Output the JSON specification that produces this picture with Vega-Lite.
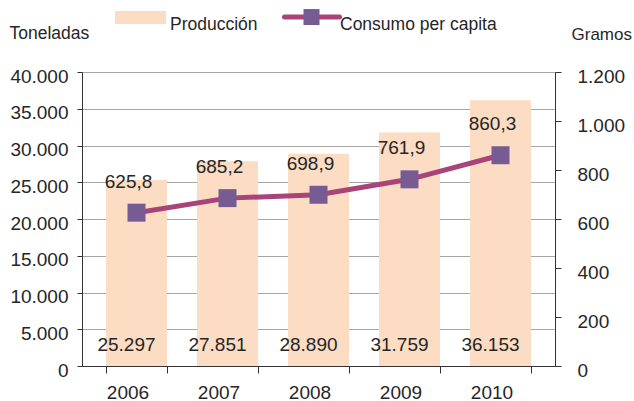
{
  "$schema": "https://vega.github.io/schema/vega-lite/v6.json",
  "width": 473,
  "height": 294,
  "autosize": "none",
  "padding": {"left": 82, "top": 72, "right": 79, "bottom": 35},
  "data": {
    "values": [
      {"anio": "2006", "prod": 25297, "cons": 625.8},
      {"anio": "2007", "prod": 27851, "cons": 685.2},
      {"anio": "2008", "prod": 28890, "cons": 698.9},
      {"anio": "2009", "prod": 31759, "cons": 761.9},
      {"anio": "2010", "prod": 36153, "cons": 860.3}
    ]
  },
  "encoding": {
    "x": {
      "field": "anio",
      "type": "nominal",
      "sort": null,
      "scale": {"paddingInner": 0.33, "paddingOuter": 0.264},
      "axis": {
        "title": null,
        "labelAngle": 0,
        "tickBand": "extent",
        "tickSize": 7,
        "labelOffset": -9,
        "labelBaseline": "alphabetic",
        "labelPadding": 25,
        "domainColor": "#333333",
        "tickColor": "#333333",
        "grid": false
      }
    }
  },
  "layer": [
    {
      "encoding": {
        "y": {
          "field": "prod",
          "type": "quantitative",
          "scale": {"domain": [0, 40000], "nice": false},
          "axis": {
            "orient": "left",
            "values": [0, 5000, 10000, 15000, 20000, 25000, 30000, 35000, 40000],
            "format": ",d",
            "grid": true,
            "gridColor": "#A6A6A6",
            "domainColor": "#333333",
            "tickColor": "#333333",
            "tickSize": 5,
            "labelPadding": 9,
            "labelBaseline": "alphabetic",
            "labelOffset": 10,
            "title": "Toneladas",
            "titleAngle": 0,
            "titleAlign": "left",
            "titleBaseline": "alphabetic",
            "titleX": -73,
            "titleY": -34,
            "titleFontWeight": "normal",
            "titleFontSize": 17.5
          }
        }
      },
      "layer": [
        {
          "mark": {"type": "bar"},
          "encoding": {
            "fill": {
              "datum": "Producción",
              "scale": {"range": ["#FCDCC3"]},
              "legend": {
                "orient": "none",
                "legendX": 33,
                "legendY": -72.5,
                "padding": 0,
                "title": null,
                "symbolType": "M-1,-0.55H1V-0.04H-1Z",
                "symbolSize": 2601,
                "symbolStrokeWidth": 0,
                "labelOffset": 4
              }
            }
          }
        },
        {
          "mark": {"type": "text", "baseline": "alphabetic", "dy": -15, "dx": -10},
          "encoding": {
            "y": {"datum": 0, "type": "quantitative"},
            "text": {"field": "prod", "type": "quantitative", "format": ",d"}
          }
        }
      ]
    },
    {
      "encoding": {
        "y": {
          "field": "cons",
          "type": "quantitative",
          "scale": {"domain": [0, 1200], "nice": false},
          "axis": {
            "orient": "right",
            "values": [0, 200, 400, 600, 800, 1000, 1200],
            "format": ",d",
            "grid": false,
            "domainColor": "#333333",
            "tickColor": "#333333",
            "tickSize": 6,
            "labelPadding": 16,
            "labelBaseline": "alphabetic",
            "labelOffset": 10,
            "title": "Gramos",
            "titleAngle": 0,
            "titleAlign": "left",
            "titleBaseline": "alphabetic",
            "titleX": 16,
            "titleY": -33,
            "titleFontWeight": "normal",
            "titleFontSize": 17
          }
        }
      },
      "layer": [
        {
          "mark": {"type": "line", "strokeWidth": 5, "strokeCap": "round"},
          "encoding": {
            "stroke": {
              "datum": "Consumo per capita",
              "scale": {"range": ["#A8447A"]},
              "legend": {
                "orient": "none",
                "legendX": 200,
                "legendY": -77,
                "padding": 0,
                "title": null,
                "symbolType": "M-1,-0.29H1",
                "symbolSize": 3025,
                "symbolStrokeWidth": 5,
                "labelOffset": -2,
                "encode": {"symbols": {"update": {"strokeCap": {"value": "round"}}}}
              }
            }
          }
        },
        {
          "mark": {"type": "point", "shape": "square", "filled": true, "size": 324, "fill": "#775C93", "opacity": 1},
          "encoding": {
            "opacity": {
              "datum": "c",
              "scale": {"range": [1]},
              "legend": {
                "orient": "none",
                "legendX": 202,
                "legendY": -74.5,
                "padding": 0,
                "title": null,
                "symbolType": "M-0.291,-0.58H0.291V0H-0.291Z",
                "symbolSize": 3025,
                "symbolFillColor": "#775C93",
                "symbolStrokeWidth": 0,
                "labelOffset": 3,
                "labelExpr": "''",
                "labelOpacity": 0
              }
            }
          }
        },
        {
          "mark": {"type": "text", "baseline": "alphabetic", "dy": -25, "dx": -8},
          "encoding": {
            "text": {"field": "cons", "type": "quantitative", "format": ".1f"}
          }
        }
      ]
    }
  ],
  "resolve": {"scale": {"y": "independent"}},
  "config": {
    "locale": {
      "number": {"decimal": ",", "thousands": ".", "grouping": [3], "currency": ["", " €"]}
    },
    "font": "Liberation Sans",
    "view": {"stroke": null},
    "axis": {
      "labelFont": "Liberation Sans",
      "labelFontSize": 19,
      "labelColor": "#262626",
      "titleFont": "Liberation Sans",
      "titleColor": "#262626"
    },
    "legend": {
      "labelFont": "Liberation Sans",
      "labelFontSize": 17.5,
      "labelColor": "#262626"
    },
    "text": {"font": "Liberation Sans", "fontSize": 19, "fill": "#262626"}
  }
}
